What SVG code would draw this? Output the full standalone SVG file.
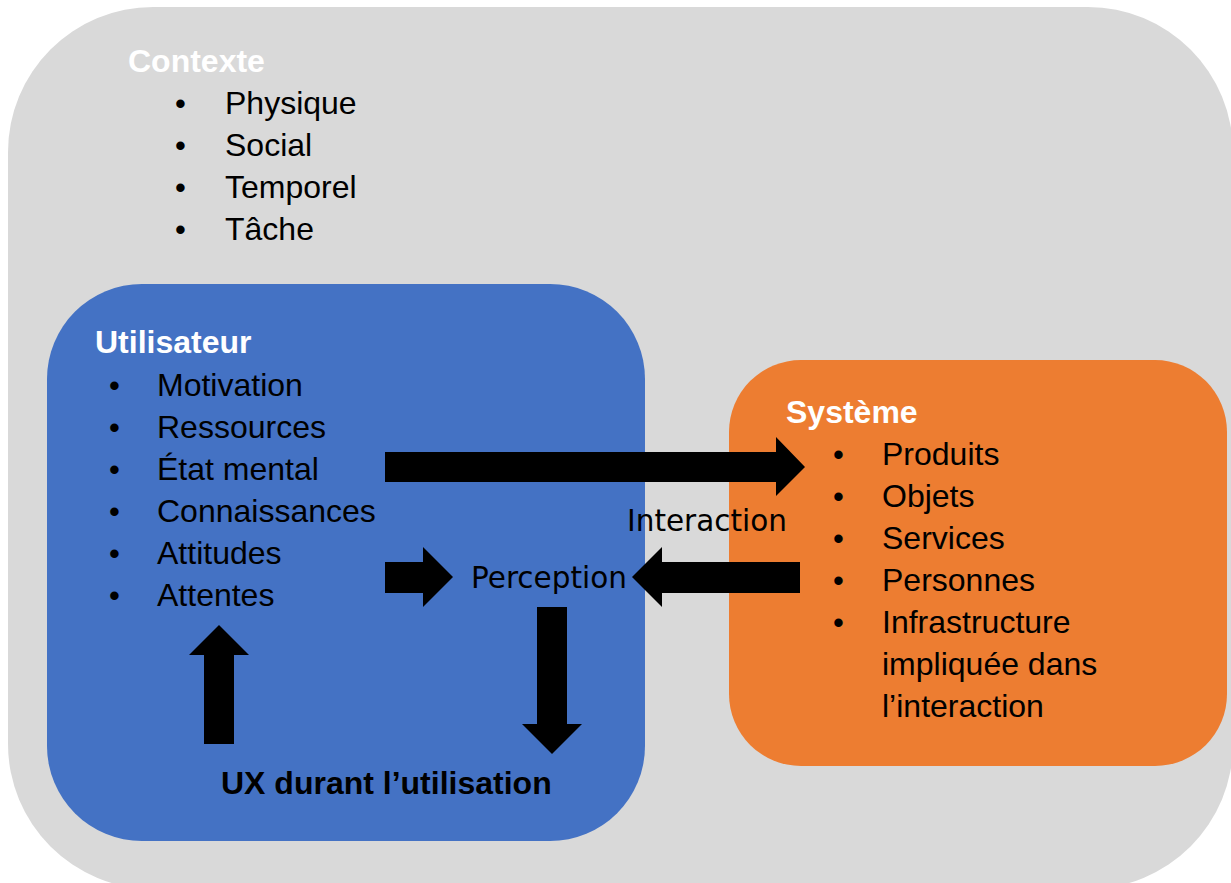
<svg xmlns="http://www.w3.org/2000/svg" width="1231" height="883" viewBox="0 0 1231 883">
<style>
.t{font-family:"Liberation Sans",Arial,sans-serif;font-size:32px;fill:#000}
.h{font-family:"Liberation Sans",Arial,sans-serif;font-size:32px;font-weight:bold;fill:#fff}
.b{font-family:"Liberation Sans",Arial,sans-serif;font-size:31px;fill:#000}
.s{font-family:"DejaVu Sans",Verdana,sans-serif;font-size:29.5px;fill:#000}
.arr{fill:#000}
</style>
<rect width="1231" height="883" fill="#fff"/>
<g id="contexte">
<rect x="8" y="7" width="1225" height="882" rx="145" ry="145" fill="#D9D9D9"/>
<text class="h" x="128" y="72">Contexte</text>
<text class="b" x="175" y="114">•</text><text class="t" x="225" y="114">Physique</text>
<text class="b" x="175" y="156">•</text><text class="t" x="225" y="156">Social</text>
<text class="b" x="175" y="198">•</text><text class="t" x="225" y="198">Temporel</text>
<text class="b" x="175" y="240">•</text><text class="t" x="225" y="240">Tâche</text>
</g>
<g id="utilisateur">
<rect x="47" y="284" width="598" height="557" rx="95" ry="95" fill="#4472C4"/>
<text class="h" x="95" y="353">Utilisateur</text>
<text class="b" x="109" y="396">•</text><text class="t" x="157" y="396">Motivation</text>
<text class="b" x="109" y="438">•</text><text class="t" x="157" y="438">Ressources</text>
<text class="b" x="109" y="480">•</text><text class="t" x="157" y="480">État mental</text>
<text class="b" x="109" y="522">•</text><text class="t" x="157" y="522">Connaissances</text>
<text class="b" x="109" y="564">•</text><text class="t" x="157" y="564">Attitudes</text>
<text class="b" x="109" y="606">•</text><text class="t" x="157" y="606">Attentes</text>
<text class="t" x="221" y="794" style="font-weight:bold;font-size:32px">UX durant l’utilisation</text>
</g>
<g id="systeme">
<rect x="729" y="360" width="498" height="406" rx="72" ry="72" fill="#ED7D31"/>
<text class="h" x="786" y="423">Système</text>
<text class="b" x="833" y="465">•</text><text class="t" x="882" y="465">Produits</text>
<text class="b" x="833" y="507">•</text><text class="t" x="882" y="507">Objets</text>
<text class="b" x="833" y="549">•</text><text class="t" x="882" y="549">Services</text>
<text class="b" x="833" y="591">•</text><text class="t" x="882" y="591">Personnes</text>
<text class="b" x="833" y="633">•</text><text class="t" x="882" y="633">Infrastructure</text>
<text class="t" x="882" y="675">impliquée dans</text>
<text class="t" x="882" y="717">l’interaction</text>
</g>
<g id="perception">
<text class="s" x="471" y="588">Perception</text>
</g>
<g id="interaction">
<text class="s" x="627" y="531">Interaction</text>
</g>
<g id="connectors">
<polygon class="arr" points="385,452 776,452 776,437 805,467 776,496 776,482 385,482"/>
<polygon class="arr" points="385,562 423,562 423,547 453,577 423,607 423,593 385,593"/>
<polygon class="arr" points="800,562 662,562 662,547 632,577 662,607 662,593 800,593"/>
<polygon class="arr" points="537,607 567,607 567,724 582,724 552,754 522,724 537,724"/>
<polygon class="arr" points="204,744 234,744 234,655 249,655 219,625 189,655 204,655"/>
</g>
</svg>
